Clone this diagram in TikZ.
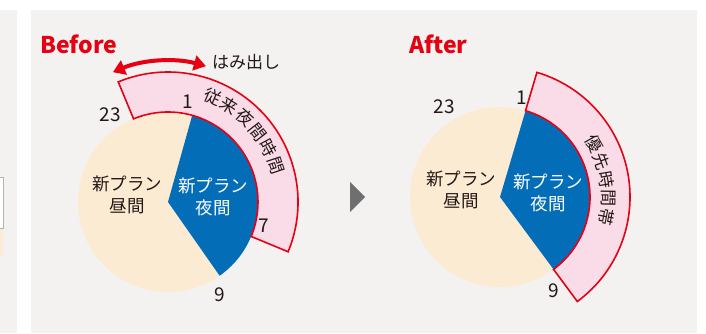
\documentclass[tikz,border=0pt]{standalone}
\usepackage{fontspec}
\setmainfont{Noto Sans CJK JP}
\usetikzlibrary{arrows.meta,calc}
\definecolor{panelgray}{HTML}{F3F2F0}
\definecolor{beigefill}{HTML}{FCEBD3}
\definecolor{nightblue}{HTML}{036EB7}
\definecolor{bandpink}{HTML}{F9DCE8}
\definecolor{bandred}{HTML}{E60012}
\definecolor{inkdark}{HTML}{231815}
\definecolor{arrowgray}{HTML}{6F6F6F}
\tikzset{
  band/.style={fill=bandpink,draw=bandred,line width=1.6pt,line join=miter},
  hourlbl/.style={text=inkdark,font=\fontsize{19}{20}\selectfont,inner sep=0pt},
  pietext/.style={text=inkdark,font=\fontsize{17.5}{22}\selectfont,align=center,inner sep=0pt},
  pietextw/.style={text=white,font=\fontsize{17.5}{22}\selectfont,align=center,inner sep=0pt},
  arctext/.style={text=inkdark,font=\fontsize{17}{17}\selectfont,inner sep=0pt},
  title/.style={text=bandred,font=\fontsize{23}{24}\selectfont\bfseries,inner sep=0pt,anchor=west},
}
\begin{document}
\begin{tikzpicture}[x=1pt,y=1pt]
\useasboundingbox (0,0) rectangle (706,333);
\fill[white] (0,0) rectangle (706,333);
\fill[panelgray] (0,0) rectangle (17,323);
\fill[panelgray] (31,0) rectangle (697,323);
\filldraw[fill=white,draw=gray!60,line width=0.8pt] (-2,105) rectangle (3.5,156);
\fill[beigefill] (0,78) rectangle (3,104);

% ---------- Before ----------
\node[title] (before) at (40,289) {Before};
\coordinate (C1) at (168,131);
\fill[beigefill] (C1) circle[radius=90];
\fill[nightblue] (C1) -- ($(C1)+(74.4:90)$) arc[start angle=74.4,end angle=-55,radius=90] -- cycle;
\path[band] ($(C1)+(112.5:90)$) arc[start angle=112.5,end angle=-22.5,radius=90]
  -- ($(C1)+(-22.5:130)$) arc[start angle=-22.5,end angle=112.5,radius=130] -- cycle;
\coordinate (arrL) at ($(C1)+(113:141)$);
\draw[bandred,line width=4pt,{Triangle[length=12pt,width=15pt]}-{Triangle[length=12pt,width=15pt]}]
  (arrL) arc[start angle=113,end angle=74.4,radius=141] coordinate (arrR);
\node[text=inkdark,font=\fontsize{17}{17}\selectfont,anchor=west,inner sep=0pt] (hamidashi) at (212,271) {はみ出し};
\foreach \ch [count=\i from 0] in {従,来,夜,間,時,間}{
  \pgfmathsetmacro\ang{90-(23+9.7*\i)}
  \node[arctext,rotate=\ang-90] (bt\i) at ($(C1)+(\ang:114)$) {\ch};
}
\node[hourlbl] (b23) at (110,218) {23};
\node[hourlbl] (b1) at (188,231) {1};
\node[hourlbl] (b7) at (264,107) {7};
\node[hourlbl] (b9) at (220,38) {9};
\node[pietext] (bday) at (127,138) {新プラン\\昼間};
\node[pietextw] (bnight) at (213,136) {新プラン\\夜間};

% ---------- arrow ----------
\fill[arrowgray] (350,151) -- (365,136) -- (350,121) -- cycle;

% ---------- After ----------
\node[title] (after) at (409,289) {After};
\coordinate (C2) at (500,136);
\fill[beigefill] (C2) circle[radius=90];
\fill[nightblue] (C2) -- ($(C2)+(73.5:90)$) arc[start angle=73.5,end angle=-53.5,radius=90] -- cycle;
\path[band] ($(C2)+(73.5:90)$) arc[start angle=73.5,end angle=-53.5,radius=90]
  -- ($(C2)+(-53.5:130)$) arc[start angle=-53.5,end angle=73.5,radius=130] -- cycle;
\foreach \ch [count=\i from 0] in {優,先,時,間,帯}{
  \pgfmathsetmacro\ang{90-(60.4+10.1*\i)}
  \node[arctext,rotate=\ang-90] (at\i) at ($(C2)+(\ang:108)$) {\ch};
}
\node[hourlbl] (a23) at (444,226) {23};
\node[hourlbl] (a1) at (522,235) {1};
\node[hourlbl] (a9) at (554,42) {9};
\node[pietext] (aday) at (461,143) {新プラン\\昼間};
\node[pietextw] (anight) at (548,140) {新プラン\\夜間};
\end{tikzpicture}
\end{document}
